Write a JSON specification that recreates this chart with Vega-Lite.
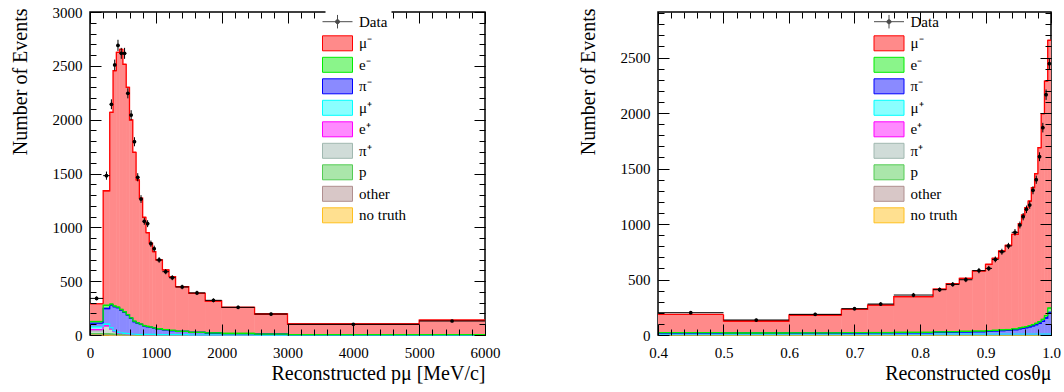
{
  "$schema": "https://vega.github.io/schema/vega-lite/v6.json",
  "padding": {"left": 9, "top": 4, "right": 0, "bottom": 0},
  "spacing": 76,
  "config": {
    "font": "Liberation Serif",
    "view": {"stroke": "black", "strokeWidth": 1.5},
    "axis": {"labelFont": "Liberation Serif", "titleFont": "Liberation Serif", "labelFontSize": 15, "titleFontSize": 20, "titleFontWeight": "normal", "labelColor": "black", "titleColor": "black", "tickColor": "black", "domainColor": "black", "grid": false, "tickWidth": 1},
    "legend": {"labelFont": "Liberation Serif", "labelFontSize": 15, "labelColor": "black"}
  },
  "resolve": {"scale": {"fill": "independent", "stroke": "independent", "shape": "independent"}},
  "hconcat": [
    {
      "width": 395, "height": 323,
      "data": {"values": [
        {"lo":0,"hi":200,"c":100,"dat":340,"err":18,"notruth":2,"other":8,"pp":3,"pip":25,"ep":12,"mup":25,"pim":35,"em":15,"mum":165},
        {"lo":200,"hi":300,"c":250,"dat":1480,"err":38,"notruth":1,"other":5,"pp":5,"pip":70,"ep":5,"mup":15,"pim":145,"em":30,"mum":1064},
        {"lo":300,"hi":350,"c":325,"dat":2143,"err":46,"notruth":0,"other":3,"pp":5,"pip":45,"ep":3,"mup":10,"pim":213,"em":8,"mum":1781},
        {"lo":350,"hi":400,"c":375,"dat":2508,"err":50,"notruth":0,"other":2,"pp":4,"pip":25,"ep":2,"mup":6,"pim":224,"em":6,"mum":2186},
        {"lo":400,"hi":450,"c":425,"dat":2690,"err":52,"notruth":0,"other":2,"pp":3,"pip":15,"ep":1,"mup":4,"pim":229,"em":5,"mum":2366},
        {"lo":450,"hi":500,"c":475,"dat":2616,"err":51,"notruth":0,"other":2,"pp":3,"pip":10,"ep":1,"mup":3,"pim":213,"em":5,"mum":2416},
        {"lo":500,"hi":550,"c":525,"dat":2616,"err":51,"notruth":0,"other":2,"pp":2,"pip":8,"ep":1,"mup":2,"pim":196,"em":5,"mum":2298},
        {"lo":550,"hi":600,"c":575,"dat":2245,"err":47,"notruth":0,"other":2,"pp":2,"pip":6,"ep":1,"mup":2,"pim":173,"em":4,"mum":2110},
        {"lo":600,"hi":650,"c":625,"dat":2043,"err":45,"notruth":0,"other":1,"pp":2,"pip":5,"ep":0,"mup":2,"pim":145,"em":4,"mum":1838},
        {"lo":650,"hi":700,"c":675,"dat":1795,"err":42,"notruth":0,"other":1,"pp":2,"pip":4,"ep":0,"mup":1,"pim":116,"em":4,"mum":1569},
        {"lo":700,"hi":750,"c":725,"dat":1465,"err":38,"notruth":0,"other":1,"pp":1,"pip":3,"ep":0,"mup":1,"pim":103,"em":3,"mum":1328},
        {"lo":750,"hi":800,"c":775,"dat":1263,"err":36,"notruth":0,"other":1,"pp":1,"pip":3,"ep":0,"mup":1,"pim":92,"em":3,"mum":1169},
        {"lo":800,"hi":850,"c":825,"dat":1056,"err":32,"notruth":0,"other":1,"pp":1,"pip":2,"ep":0,"mup":1,"pim":80,"em":3,"mum":1005},
        {"lo":850,"hi":900,"c":875,"dat":1034,"err":32,"notruth":0,"other":1,"pp":1,"pip":2,"ep":0,"mup":1,"pim":72,"em":3,"mum":870},
        {"lo":900,"hi":950,"c":925,"dat":848,"err":29,"notruth":0,"other":1,"pp":1,"pip":2,"ep":0,"mup":1,"pim":66,"em":2,"mum":779},
        {"lo":950,"hi":1000,"c":975,"dat":802,"err":28,"notruth":0,"other":1,"pp":1,"pip":2,"ep":0,"mup":1,"pim":60,"em":2,"mum":707},
        {"lo":1000,"hi":1100,"c":1050,"dat":697,"err":26,"notruth":0,"other":1,"pp":1,"pip":2,"ep":0,"mup":0,"pim":52,"em":2,"mum":639},
        {"lo":1100,"hi":1200,"c":1150,"dat":588,"err":24,"notruth":0,"other":1,"pp":1,"pip":1,"ep":0,"mup":0,"pim":45,"em":2,"mum":554},
        {"lo":1200,"hi":1300,"c":1250,"dat":532,"err":23,"notruth":0,"other":1,"pp":1,"pip":1,"ep":0,"mup":0,"pim":38,"em":2,"mum":499},
        {"lo":1300,"hi":1500,"c":1400,"dat":446,"err":21,"notruth":0,"other":1,"pp":1,"pip":1,"ep":0,"mup":0,"pim":30,"em":1,"mum":415},
        {"lo":1500,"hi":1750,"c":1625,"dat":391,"err":20,"notruth":0,"other":1,"pp":0,"pip":1,"ep":0,"mup":0,"pim":22,"em":1,"mum":362},
        {"lo":1750,"hi":2000,"c":1875,"dat":322,"err":18,"notruth":0,"other":0,"pp":0,"pip":1,"ep":0,"mup":0,"pim":17,"em":1,"mum":297},
        {"lo":2000,"hi":2500,"c":2250,"dat":257,"err":16,"notruth":0,"other":1,"pp":0,"pip":0,"ep":0,"mup":0,"pim":12,"em":1,"mum":243},
        {"lo":2500,"hi":3000,"c":2750,"dat":195,"err":14,"notruth":0,"other":0,"pp":0,"pip":0,"ep":0,"mup":0,"pim":8,"em":1,"mum":186},
        {"lo":3000,"hi":5000,"c":4000,"dat":99,"err":10,"notruth":0,"other":0,"pp":0,"pip":0,"ep":0,"mup":0,"pim":4,"em":0,"mum":98},
        {"lo":5000,"hi":6000,"c":5500,"dat":130,"err":11,"notruth":0,"other":0,"pp":0,"pip":0,"ep":0,"mup":0,"pim":3,"em":0,"mum":136}
      ]},
      "layer": [
        {
          "transform": [
            {"fold": ["notruth","other","pp","pip","ep","mup","pim","em","mum"], "as": ["comp","n"]},
            {"window": [{"op": "row_number", "as": "k"}], "groupby": ["lo"]},
            {"stack": "n", "groupby": ["lo"], "sort": [{"field": "k", "order": "ascending"}], "as": ["y0","y1"]}
          ],
          "mark": {"type": "bar"},
          "encoding": {
            "x": {"field": "lo", "type": "quantitative", "scale": {"domain": [0, 6000], "nice": false, "zero": false},
                  "axis": {"orient": "bottom", "tickCount": 6, "format": "d", "tickSize": -11, "labelPadding": 21, "labelFlush": false, "domain": false, "title": "Reconstructed pμ [MeV/c]", "titleAnchor": "end", "titleAlign": "right", "titlePadding": 3, "zindex": 1}},
            "x2": {"field": "hi"},
            "y": {"field": "y1", "type": "quantitative", "scale": {"domain": [0, 3000], "nice": false},
                  "axis": {"orient": "left", "tickCount": 6, "format": "d", "tickSize": -11, "labelPadding": 19, "labelFlush": false, "domain": false, "title": "Number of Events", "titleAnchor": "end", "titleAlign": "right", "titleY": -4, "titlePadding": 22, "zindex": 1}},
            "y2": {"field": "y0"},
            "fill": {"field": "comp", "type": "nominal",
                     "scale": {"domain": ["mum","em","pim","mup","ep","pip","pp","other","notruth"], "range": ["#ff8a8a","#8af58a","#8a8aff","#8affff","#ff8aff","#d0dcd8","#aae6aa","#d8c7c7","#ffe090"]},
                     "legend": {"orient": "none", "legendX": 235.5, "legendY": 19.3, "title": null, "symbolType": "M-2,-1H2V1H-2Z", "symbolSize": 225, "symbolStrokeWidth": 1, "labelFont": "Liberation Serif", "labelExpr": "{'mum':'μ⁻','em':'e⁻','pim':'π⁻','mup':'μ⁺','ep':'e⁺','pip':'π⁺','pp':'p','other':'other','notruth':'no truth'}[datum.label]", "labelOffset": 13.5, "rowPadding": 1.5, "padding": 4, "fillColor": "white", "zindex": 2}}
          }
        },
        {
          "transform": [
            {"fold": ["notruth","other","pp","pip","ep","mup","pim","em","mum"], "as": ["comp","n"]},
            {"window": [{"op": "row_number", "as": "k"}], "groupby": ["lo"]},
            {"stack": "n", "groupby": ["lo"], "sort": [{"field": "k", "order": "ascending"}], "as": ["y0","y1"]}
          ],
          "mark": {"type": "bar"},
          "encoding": {
            "x": {"field": "lo", "type": "quantitative", "axis": {"orient": "bottom", "tickCount": 30, "tickSize": -6, "labels": false, "domain": false, "title": null, "zindex": 1}},
            "x2": {"field": "hi"},
            "y": {"field": "y1", "type": "quantitative", "axis": {"orient": "left", "tickCount": 30, "tickSize": -6, "labels": false, "domain": false, "title": null, "zindex": 1}},
            "y2": {"field": "y0"},
            "fill": {"field": "comp", "type": "nominal",
                     "legend": {"orient": "none", "legendX": 235.5, "legendY": 19.3, "title": null, "symbolType": "M-2,-1H2V1H-2Z", "symbolSize": 225, "symbolStrokeWidth": 1, "labelFont": "Liberation Serif", "labelExpr": "{'mum':'μ⁻','em':'e⁻','pim':'π⁻','mup':'μ⁺','ep':'e⁺','pip':'π⁺','pp':'p','other':'other','notruth':'no truth'}[datum.label]", "labelOffset": 13.5, "rowPadding": 1.5, "padding": 4, "fillColor": "white", "zindex": 2}}
          }
        },
        {
          "transform": [
            {"fold": ["notruth","other","pp","pip","ep","mup","pim","em","mum"], "as": ["comp","n"]},
            {"window": [{"op": "row_number", "as": "k"}], "groupby": ["lo"]},
            {"stack": "n", "groupby": ["lo"], "sort": [{"field": "k", "order": "ascending"}], "as": ["y0","y1"]}
          ],
          "mark": {"type": "rule", "strokeWidth": 1.3},
          "encoding": {
            "x": {"field": "lo", "type": "quantitative", "axis": {"orient": "top", "tickCount": 6, "tickSize": -11, "labels": false, "domain": false, "title": null, "zindex": 1}},
            "x2": {"field": "hi"},
            "y": {"field": "y1", "type": "quantitative", "axis": {"orient": "right", "tickCount": 6, "tickSize": -11, "labels": false, "domain": false, "title": null, "zindex": 1}},
            "stroke": {"field": "comp", "type": "nominal",
                       "scale": {"domain": ["mum","em","pim","mup","ep","pip","pp","other","notruth"], "range": ["#ff0000","#00ee00","#0000ff","#00ffff","#ff00ff","#a0b8b0","#55cc55","#b08f8f","#ffc020"]},
                       "legend": {"orient": "none", "legendX": 235.5, "legendY": 19.3, "title": null, "symbolType": "M-2,-1H2V1H-2Z", "symbolSize": 225, "symbolStrokeWidth": 1, "labelFont": "Liberation Serif", "labelExpr": "{'mum':'μ⁻','em':'e⁻','pim':'π⁻','mup':'μ⁺','ep':'e⁺','pip':'π⁺','pp':'p','other':'other','notruth':'no truth'}[datum.label]", "labelOffset": 13.5, "rowPadding": 1.5, "padding": 4, "fillColor": "white", "zindex": 2}}
          }
        },
        {
          "transform": [
            {"fold": ["notruth","other","pp","pip","ep","mup","pim","em","mum"], "as": ["comp","n"]},
            {"window": [{"op": "row_number", "as": "k"}], "groupby": ["lo"]},
            {"stack": "n", "groupby": ["lo"], "sort": [{"field": "k", "order": "ascending"}], "as": ["y0","y1"]}
          ],
          "mark": {"type": "line", "interpolate": "step-before", "strokeWidth": 1.3},
          "encoding": {
            "x": {"field": "hi", "type": "quantitative", "axis": {"orient": "top", "tickCount": 30, "tickSize": -6, "labels": false, "domain": false, "title": null, "zindex": 1}},
            "y": {"field": "y1", "type": "quantitative", "axis": {"orient": "right", "tickCount": 30, "tickSize": -6, "labels": false, "domain": false, "title": null, "zindex": 1}},
            "stroke": {"field": "comp", "type": "nominal",
                       "legend": {"orient": "none", "legendX": 235.5, "legendY": 19.3, "title": null, "symbolType": "M-2,-1H2V1H-2Z", "symbolSize": 225, "symbolStrokeWidth": 1, "labelFont": "Liberation Serif", "labelExpr": "{'mum':'μ⁻','em':'e⁻','pim':'π⁻','mup':'μ⁺','ep':'e⁺','pip':'π⁺','pp':'p','other':'other','notruth':'no truth'}[datum.label]", "labelOffset": 13.5, "rowPadding": 1.5, "padding": 4, "fillColor": "white", "zindex": 2}}
          }
        },
        {
          "mark": {"type": "errorbar", "ticks": false, "color": "black", "thickness": 1},
          "encoding": {
            "x": {"field": "c", "type": "quantitative", "axis": null},
            "y": {"field": "dat", "type": "quantitative", "axis": null},
            "yError": {"field": "err"}
          }
        },
        {
          "mark": {"type": "rule", "color": "black", "strokeWidth": 1},
          "encoding": {
            "x": {"field": "lo", "type": "quantitative", "axis": null},
            "x2": {"field": "hi"},
            "y": {"field": "dat", "type": "quantitative", "axis": null}
          }
        },
        {
          "mark": {"type": "circle", "color": "black", "size": 14, "opacity": 1},
          "encoding": {
            "x": {"field": "c", "type": "quantitative", "axis": null},
            "y": {"field": "dat", "type": "quantitative", "axis": null}
          }
        },
        {
          "data": {"values": []},
          "mark": {"type": "point", "filled": true, "color": "black", "stroke": "black", "strokeWidth": 1},
          "encoding": {
            "shape": {"datum": "Data", "scale": {"domain": ["Data"], "range": ["M-2,0H2M0,-0.9V0.9M0.27,0A0.27,0.27,0,1,1,-0.27,0A0.27,0.27,0,1,1,0.27,0Z"]},
                      "legend": {"orient": "none", "legendX": 235.5, "legendY": -2.3, "title": null, "symbolSize": 225, "symbolStrokeWidth": 1, "labelFont": "Liberation Serif", "labelOffset": 13.5, "padding": 4, "fillColor": "white", "zindex": 2,
                                 "encode": {"symbols": {"update": {"shape": {"value": "M-2,0H2M0,-0.9V0.9M0.27,0A0.27,0.27,0,1,1,-0.27,0A0.27,0.27,0,1,1,0.27,0Z"}, "size": {"value": 225}, "stroke": {"value": "black"}, "strokeWidth": {"value": 1}, "fill": {"value": "black"}, "opacity": {"value": 1}}}}}}
          }
        }
      ],
      "resolve": {"axis": {"x": "independent", "y": "independent"}}
    },
    {
      "width": 393, "height": 323,
      "data": {"values": [
        {"lo":0.4,"hi":0.5,"c":0.45,"dat":201,"err":14,"notruth":0,"other":3,"pp":1,"pip":2,"ep":0,"mup":2,"pim":10,"em":3,"mum":164},
        {"lo":0.5,"hi":0.6,"c":0.55,"dat":135,"err":12,"notruth":0,"other":3,"pp":1,"pip":2,"ep":0,"mup":2,"pim":8,"em":2,"mum":108},
        {"lo":0.6,"hi":0.68,"c":0.64,"dat":186,"err":14,"notruth":0,"other":3,"pp":1,"pip":2,"ep":0,"mup":2,"pim":9,"em":3,"mum":160},
        {"lo":0.68,"hi":0.72,"c":0.7,"dat":237,"err":15,"notruth":0,"other":3,"pp":1,"pip":2,"ep":0,"mup":2,"pim":10,"em":3,"mum":210},
        {"lo":0.72,"hi":0.76,"c":0.74,"dat":279,"err":17,"notruth":0,"other":3,"pp":1,"pip":2,"ep":0,"mup":2,"pim":11,"em":3,"mum":248},
        {"lo":0.76,"hi":0.82,"c":0.79,"dat":360,"err":19,"notruth":0,"other":3,"pp":1,"pip":2,"ep":0,"mup":2,"pim":12,"em":4,"mum":321},
        {"lo":0.82,"hi":0.84,"c":0.83,"dat":408,"err":20,"notruth":0,"other":3,"pp":1,"pip":2,"ep":0,"mup":2,"pim":17,"em":4,"mum":383},
        {"lo":0.84,"hi":0.86,"c":0.85,"dat":456,"err":21,"notruth":0,"other":3,"pp":1,"pip":2,"ep":0,"mup":2,"pim":18,"em":4,"mum":432},
        {"lo":0.86,"hi":0.88,"c":0.87,"dat":498,"err":22,"notruth":0,"other":3,"pp":1,"pip":2,"ep":0,"mup":2,"pim":20,"em":5,"mum":477},
        {"lo":0.88,"hi":0.9,"c":0.89,"dat":580,"err":24,"notruth":0,"other":3,"pp":1,"pip":2,"ep":0,"mup":2,"pim":22,"em":5,"mum":542},
        {"lo":0.9,"hi":0.91,"c":0.905,"dat":600,"err":24,"notruth":0,"other":3,"pp":1,"pip":2,"ep":0,"mup":2,"pim":26,"em":5,"mum":598},
        {"lo":0.91,"hi":0.92,"c":0.915,"dat":681,"err":26,"notruth":0,"other":3,"pp":1,"pip":2,"ep":0,"mup":2,"pim":29,"em":5,"mum":649},
        {"lo":0.92,"hi":0.93,"c":0.925,"dat":750,"err":27,"notruth":0,"other":3,"pp":1,"pip":2,"ep":0,"mup":2,"pim":32,"em":6,"mum":711},
        {"lo":0.93,"hi":0.94,"c":0.935,"dat":802,"err":28,"notruth":0,"other":3,"pp":1,"pip":2,"ep":0,"mup":2,"pim":35,"em":6,"mum":759},
        {"lo":0.94,"hi":0.95,"c":0.945,"dat":925,"err":30,"notruth":0,"other":3,"pp":1,"pip":2,"ep":0,"mup":2,"pim":40,"em":7,"mum":852},
        {"lo":0.95,"hi":0.955,"c":0.9525,"dat":991,"err":31,"notruth":0,"other":3,"pp":1,"pip":2,"ep":0,"mup":2,"pim":48,"em":8,"mum":939},
        {"lo":0.955,"hi":0.96,"c":0.9575,"dat":1066,"err":33,"notruth":0,"other":3,"pp":1,"pip":2,"ep":0,"mup":2,"pim":53,"em":8,"mum":1012},
        {"lo":0.96,"hi":0.965,"c":0.9625,"dat":1132,"err":34,"notruth":0,"other":3,"pp":1,"pip":2,"ep":0,"mup":2,"pim":58,"em":9,"mum":1072},
        {"lo":0.965,"hi":0.97,"c":0.9675,"dat":1171,"err":34,"notruth":0,"other":3,"pp":1,"pip":2,"ep":0,"mup":2,"pim":66,"em":10,"mum":1123},
        {"lo":0.97,"hi":0.975,"c":0.9725,"dat":1304,"err":36,"notruth":0,"other":3,"pp":1,"pip":2,"ep":0,"mup":2,"pim":75,"em":11,"mum":1233},
        {"lo":0.975,"hi":0.98,"c":0.9775,"dat":1399,"err":37,"notruth":0,"other":3,"pp":1,"pip":2,"ep":0,"mup":2,"pim":85,"em":12,"mum":1348},
        {"lo":0.98,"hi":0.985,"c":0.9825,"dat":1606,"err":40,"notruth":0,"other":3,"pp":1,"pip":2,"ep":0,"mup":2,"pim":98,"em":14,"mum":1568},
        {"lo":0.985,"hi":0.99,"c":0.9875,"dat":1868,"err":43,"notruth":0,"other":3,"pp":1,"pip":2,"ep":0,"mup":2,"pim":115,"em":17,"mum":1854},
        {"lo":0.99,"hi":0.995,"c":0.9925,"dat":2165,"err":47,"notruth":0,"other":3,"pp":1,"pip":2,"ep":0,"mup":2,"pim":145,"em":22,"mum":2113},
        {"lo":0.995,"hi":1.0,"c":0.9975,"dat":2444,"err":49,"notruth":0,"other":3,"pp":1,"pip":2,"ep":0,"mup":2,"pim":195,"em":40,"mum":2412}
      ]},
      "layer": [
        {
          "transform": [
            {"fold": ["notruth","other","pp","pip","ep","mup","pim","em","mum"], "as": ["comp","n"]},
            {"window": [{"op": "row_number", "as": "k"}], "groupby": ["lo"]},
            {"stack": "n", "groupby": ["lo"], "sort": [{"field": "k", "order": "ascending"}], "as": ["y0","y1"]}
          ],
          "mark": {"type": "bar"},
          "encoding": {
            "x": {"field": "lo", "type": "quantitative", "scale": {"domain": [0.4, 1.0], "nice": false, "zero": false},
                  "axis": {"orient": "bottom", "tickCount": 6, "format": ".1f", "tickSize": -11, "labelPadding": 21, "labelFlush": false, "domain": false, "title": "Reconstructed cosθμ", "titleAnchor": "end", "titleAlign": "right", "titlePadding": 3, "zindex": 1}},
            "x2": {"field": "hi"},
            "y": {"field": "y1", "type": "quantitative", "scale": {"domain": [0, 2910], "nice": false},
                  "axis": {"orient": "left", "tickCount": 6, "format": "d", "tickSize": -11, "labelPadding": 19, "labelFlush": false, "domain": false, "title": "Number of Events", "titleAnchor": "end", "titleAlign": "right", "titleY": -4, "titlePadding": 22, "zindex": 1}},
            "y2": {"field": "y0"},
            "fill": {"field": "comp", "type": "nominal",
                     "scale": {"domain": ["mum","em","pim","mup","ep","pip","pp","other","notruth"], "range": ["#ff8a8a","#8af58a","#8a8aff","#8affff","#ff8aff","#d0dcd8","#aae6aa","#d8c7c7","#ffe090"]},
                     "legend": {"orient": "none", "legendX": 219, "legendY": 19.3, "title": null, "symbolType": "M-2,-1H2V1H-2Z", "symbolSize": 225, "symbolStrokeWidth": 1, "labelFont": "Liberation Serif", "labelExpr": "{'mum':'μ⁻','em':'e⁻','pim':'π⁻','mup':'μ⁺','ep':'e⁺','pip':'π⁺','pp':'p','other':'other','notruth':'no truth'}[datum.label]", "labelOffset": 13.5, "rowPadding": 1.5, "padding": 4, "zindex": 2}}
          }
        },
        {
          "transform": [
            {"fold": ["notruth","other","pp","pip","ep","mup","pim","em","mum"], "as": ["comp","n"]},
            {"window": [{"op": "row_number", "as": "k"}], "groupby": ["lo"]},
            {"stack": "n", "groupby": ["lo"], "sort": [{"field": "k", "order": "ascending"}], "as": ["y0","y1"]}
          ],
          "mark": {"type": "bar"},
          "encoding": {
            "x": {"field": "lo", "type": "quantitative", "axis": {"orient": "bottom", "tickCount": 30, "tickSize": -6, "labels": false, "domain": false, "title": null, "zindex": 1}},
            "x2": {"field": "hi"},
            "y": {"field": "y1", "type": "quantitative", "axis": {"orient": "left", "tickCount": 30, "tickSize": -6, "labels": false, "domain": false, "title": null, "zindex": 1}},
            "y2": {"field": "y0"},
            "fill": {"field": "comp", "type": "nominal",
                     "legend": {"orient": "none", "legendX": 219, "legendY": 19.3, "title": null, "symbolType": "M-2,-1H2V1H-2Z", "symbolSize": 225, "symbolStrokeWidth": 1, "labelFont": "Liberation Serif", "labelExpr": "{'mum':'μ⁻','em':'e⁻','pim':'π⁻','mup':'μ⁺','ep':'e⁺','pip':'π⁺','pp':'p','other':'other','notruth':'no truth'}[datum.label]", "labelOffset": 13.5, "rowPadding": 1.5, "padding": 4, "zindex": 2}}
          }
        },
        {
          "transform": [
            {"fold": ["notruth","other","pp","pip","ep","mup","pim","em","mum"], "as": ["comp","n"]},
            {"window": [{"op": "row_number", "as": "k"}], "groupby": ["lo"]},
            {"stack": "n", "groupby": ["lo"], "sort": [{"field": "k", "order": "ascending"}], "as": ["y0","y1"]}
          ],
          "mark": {"type": "rule", "strokeWidth": 1.3},
          "encoding": {
            "x": {"field": "lo", "type": "quantitative", "axis": {"orient": "top", "tickCount": 6, "tickSize": -11, "labels": false, "domain": false, "title": null, "zindex": 1}},
            "x2": {"field": "hi"},
            "y": {"field": "y1", "type": "quantitative", "axis": {"orient": "right", "tickCount": 6, "tickSize": -11, "labels": false, "domain": false, "title": null, "zindex": 1}},
            "stroke": {"field": "comp", "type": "nominal",
                       "scale": {"domain": ["mum","em","pim","mup","ep","pip","pp","other","notruth"], "range": ["#ff0000","#00ee00","#0000ff","#00ffff","#ff00ff","#a0b8b0","#55cc55","#b08f8f","#ffc020"]},
                       "legend": {"orient": "none", "legendX": 219, "legendY": 19.3, "title": null, "symbolType": "M-2,-1H2V1H-2Z", "symbolSize": 225, "symbolStrokeWidth": 1, "labelFont": "Liberation Serif", "labelExpr": "{'mum':'μ⁻','em':'e⁻','pim':'π⁻','mup':'μ⁺','ep':'e⁺','pip':'π⁺','pp':'p','other':'other','notruth':'no truth'}[datum.label]", "labelOffset": 13.5, "rowPadding": 1.5, "padding": 4, "zindex": 2}}
          }
        },
        {
          "transform": [
            {"fold": ["notruth","other","pp","pip","ep","mup","pim","em","mum"], "as": ["comp","n"]},
            {"window": [{"op": "row_number", "as": "k"}], "groupby": ["lo"]},
            {"stack": "n", "groupby": ["lo"], "sort": [{"field": "k", "order": "ascending"}], "as": ["y0","y1"]}
          ],
          "mark": {"type": "line", "interpolate": "step-before", "strokeWidth": 1.3},
          "encoding": {
            "x": {"field": "hi", "type": "quantitative", "axis": {"orient": "top", "tickCount": 30, "tickSize": -6, "labels": false, "domain": false, "title": null, "zindex": 1}},
            "y": {"field": "y1", "type": "quantitative", "axis": {"orient": "right", "tickCount": 30, "tickSize": -6, "labels": false, "domain": false, "title": null, "zindex": 1}},
            "stroke": {"field": "comp", "type": "nominal",
                       "legend": {"orient": "none", "legendX": 219, "legendY": 19.3, "title": null, "symbolType": "M-2,-1H2V1H-2Z", "symbolSize": 225, "symbolStrokeWidth": 1, "labelFont": "Liberation Serif", "labelExpr": "{'mum':'μ⁻','em':'e⁻','pim':'π⁻','mup':'μ⁺','ep':'e⁺','pip':'π⁺','pp':'p','other':'other','notruth':'no truth'}[datum.label]", "labelOffset": 13.5, "rowPadding": 1.5, "padding": 4, "zindex": 2}}
          }
        },
        {
          "mark": {"type": "errorbar", "ticks": false, "color": "black", "thickness": 1},
          "encoding": {
            "x": {"field": "c", "type": "quantitative", "axis": null},
            "y": {"field": "dat", "type": "quantitative", "axis": null},
            "yError": {"field": "err"}
          }
        },
        {
          "mark": {"type": "rule", "color": "black", "strokeWidth": 1},
          "encoding": {
            "x": {"field": "lo", "type": "quantitative", "axis": null},
            "x2": {"field": "hi"},
            "y": {"field": "dat", "type": "quantitative", "axis": null}
          }
        },
        {
          "mark": {"type": "circle", "color": "black", "size": 14, "opacity": 1},
          "encoding": {
            "x": {"field": "c", "type": "quantitative", "axis": null},
            "y": {"field": "dat", "type": "quantitative", "axis": null}
          }
        },
        {
          "data": {"values": []},
          "mark": {"type": "point", "filled": true, "color": "black", "stroke": "black", "strokeWidth": 1},
          "encoding": {
            "shape": {"datum": "Data", "scale": {"domain": ["Data"], "range": ["M-2,0H2M0,-0.9V0.9M0.27,0A0.27,0.27,0,1,1,-0.27,0A0.27,0.27,0,1,1,0.27,0Z"]},
                      "legend": {"orient": "none", "legendX": 219, "legendY": -2.3, "title": null, "symbolSize": 225, "symbolStrokeWidth": 1, "labelFont": "Liberation Serif", "labelOffset": 13.5, "padding": 4, "zindex": 2,
                                 "encode": {"symbols": {"update": {"shape": {"value": "M-2,0H2M0,-0.9V0.9M0.27,0A0.27,0.27,0,1,1,-0.27,0A0.27,0.27,0,1,1,0.27,0Z"}, "size": {"value": 225}, "stroke": {"value": "black"}, "strokeWidth": {"value": 1}, "fill": {"value": "black"}, "opacity": {"value": 1}}}}}}
          }
        }
      ],
      "resolve": {"axis": {"x": "independent", "y": "independent"}}
    }
  ]
}
